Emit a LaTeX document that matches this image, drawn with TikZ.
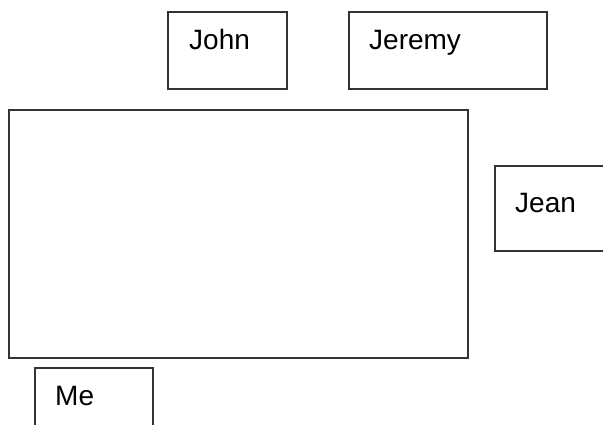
\documentclass[tikz,border=0pt]{standalone}
\usepackage{fontspec}
\setmainfont{Liberation Sans}
\begin{document}
\begin{tikzpicture}[x=1pt,y=-1pt,
  box/.style={draw=black!80, line width=1.6pt, inner sep=0pt, fill=white},
  lbl/.style={inner sep=0pt, anchor=base west, font=\fontsize{28}{31}\selectfont}]
\useasboundingbox (0,0) rectangle (603,425);
\clip (0,0) rectangle (603,425);
\node[box, minimum width=119pt, minimum height=77pt] (john) at (227.5,50.5) {};
\node[box, minimum width=198pt, minimum height=77pt] (jeremy) at (448,50.5) {};
\node[box, minimum width=459pt, minimum height=248pt] (main) at (238.5,234) {};
\node[box, minimum width=130pt, minimum height=85pt] (jean) at (560,208.5) {};
\node[box, minimum width=118pt, minimum height=90pt] (me) at (94,413) {};
\node[lbl] (johnt) at (189,50) {John};
\node[lbl] (jeremyt) at (369,50) {Jeremy};
\node[lbl] (jeant) at (515,213) {Jean};
\node[lbl] (met) at (55,405) {Me};
\end{tikzpicture}
\end{document}
